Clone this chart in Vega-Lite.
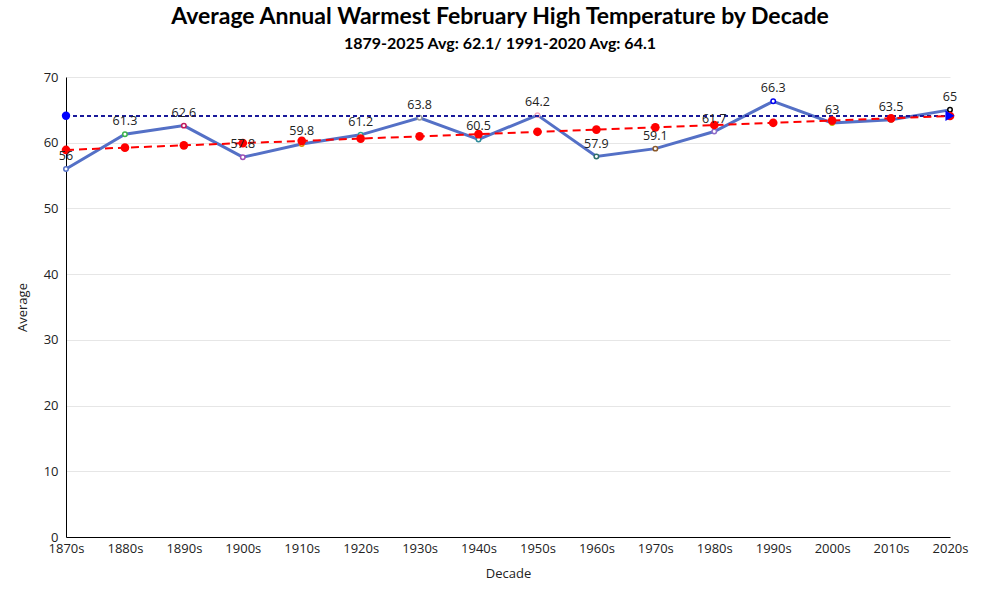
{
  "$schema": "https://vega.github.io/schema/vega-lite/v6.json",
  "width": 884,
  "height": 460,
  "autosize": {"type": "none"},
  "padding": {"left": 66, "top": 77, "right": 50, "bottom": 63},
  "background": "white",
  "config": {
    "view": {"stroke": null},
    "font": "Open Sans",
    "axis": {"labelFont": "Open Sans", "titleFont": "Open Sans", "labelColor": "#222", "titleColor": "#222", "titleFontWeight": "normal"}
  },
  "title": {
    "text": "Average Annual Warmest February High Temperature by Decade",
    "subtitle": "1879-2025 Avg: 62.1/ 1991-2020 Avg: 64.1",
    "font": "Lato",
    "subtitleFont": "Lato",
    "fontSize": 23,
    "subtitleFontSize": 16,
    "fontWeight": "bold",
    "subtitleFontWeight": "bold",
    "color": "#000",
    "subtitleColor": "#000",
    "anchor": "middle",
    "dx": -8,
    "offset": 19,
    "subtitlePadding": 7
  },
  "data": {
    "values": [
      {"decade": "1870s", "avg": 56, "trend": 58.9, "c": "#5470c6"},
      {"decade": "1880s", "avg": 61.3, "trend": 59.25, "c": "#3cb44b"},
      {"decade": "1890s", "avg": 62.6, "trend": 59.6, "c": "#c2185b"},
      {"decade": "1900s", "avg": 57.8, "trend": 59.94, "c": "#9c4fb5"},
      {"decade": "1910s", "avg": 59.8, "trend": 60.28, "c": "#e08a00"},
      {"decade": "1920s", "avg": 61.2, "trend": 60.63, "c": "#2aa198"},
      {"decade": "1930s", "avg": 63.8, "trend": 60.97, "c": "#999999"},
      {"decade": "1940s", "avg": 60.5, "trend": 61.31, "c": "#2e8b9a"},
      {"decade": "1950s", "avg": 64.2, "trend": 61.66, "c": "#f4a6b8"},
      {"decade": "1960s", "avg": 57.9, "trend": 62.0, "c": "#2f6f6a"},
      {"decade": "1970s", "avg": 59.1, "trend": 62.34, "c": "#8b5a2b"},
      {"decade": "1980s", "avg": 61.7, "trend": 62.69, "c": "#8e6cc9"},
      {"decade": "1990s", "avg": 66.3, "trend": 63.03, "c": "#0000ee"},
      {"decade": "2000s", "avg": 63, "trend": 63.37, "c": "#c8b400"},
      {"decade": "2010s", "avg": 63.5, "trend": 63.71, "c": "#5aa05a"},
      {"decade": "2020s", "avg": 65, "trend": 64.06, "c": "#000000"}
    ]
  },
  "layer": [
    {
      "mark": {"type": "line", "color": "#5470c6", "strokeWidth": 3},
      "encoding": {
        "x": {
          "field": "decade",
          "type": "ordinal",
          "sort": null,
          "scale": {"type": "point", "padding": 0},
          "axis": {"title": "Decade", "labelAngle": 0, "ticks": false, "domainColor": "#000", "labelFontSize": 13, "titleFontSize": 13, "labelPadding": 5, "titlePadding": 12, "grid": false}
        },
        "y": {
          "field": "avg",
          "type": "quantitative",
          "scale": {"domain": [0, 70]},
          "axis": {"title": "Average", "values": [0, 10, 20, 30, 40, 50, 60, 70], "ticks": false, "domainColor": "#000", "gridColor": "#e6e6e6", "labelFontSize": 13, "titleFontSize": 13, "labelPadding": 8, "titlePadding": 14}
        }
      }
    },
    {
      "mark": {"type": "point", "shape": "circle", "filled": false, "fill": "white", "strokeWidth": 1.5, "size": 20, "opacity": 1},
      "encoding": {
        "x": {"field": "decade", "type": "ordinal", "sort": null},
        "y": {"field": "avg", "type": "quantitative"},
        "stroke": {"field": "c", "type": "nominal", "scale": null}
      }
    },
    {
      "mark": {"type": "rule", "color": "#1a1a9a", "strokeWidth": 0.9, "strokeDash": [4, 3]},
      "encoding": {
        "x": {"datum": "1870s"},
        "x2": {"datum": "2020s"},
        "y": {"datum": 64.1}
      }
    },
    {
      "mark": {"type": "line", "color": "#ff0000", "strokeWidth": 2, "strokeDash": [8, 5]},
      "encoding": {
        "x": {"field": "decade", "type": "ordinal", "sort": null},
        "y": {"field": "trend", "type": "quantitative"}
      }
    },
    {
      "mark": {"type": "circle", "color": "#ff0000", "size": 75, "opacity": 1},
      "encoding": {
        "x": {"field": "decade", "type": "ordinal", "sort": null},
        "y": {"field": "trend", "type": "quantitative"}
      }
    },
    {
      "transform": [{"filter": "datum.decade === '1870s'"}],
      "mark": {"type": "circle", "color": "#0000ff", "size": 70, "opacity": 1},
      "encoding": {
        "x": {"field": "decade", "type": "ordinal", "sort": null},
        "y": {"datum": 64.1}
      }
    },
    {
      "transform": [{"filter": "datum.decade === '2020s'"}],
      "mark": {"type": "point", "shape": "triangle-right", "filled": true, "color": "#0000ff", "size": 110, "opacity": 1},
      "encoding": {
        "x": {"field": "decade", "type": "ordinal", "sort": null},
        "y": {"datum": 64.1}
      }
    },
    {
      "mark": {"type": "text", "fontSize": 12.5, "color": "#222", "dy": -13, "font": "Open Sans"},
      "encoding": {
        "x": {"field": "decade", "type": "ordinal", "sort": null},
        "y": {"field": "avg", "type": "quantitative"},
        "text": {"field": "avg", "type": "quantitative"}
      }
    }
  ]
}
